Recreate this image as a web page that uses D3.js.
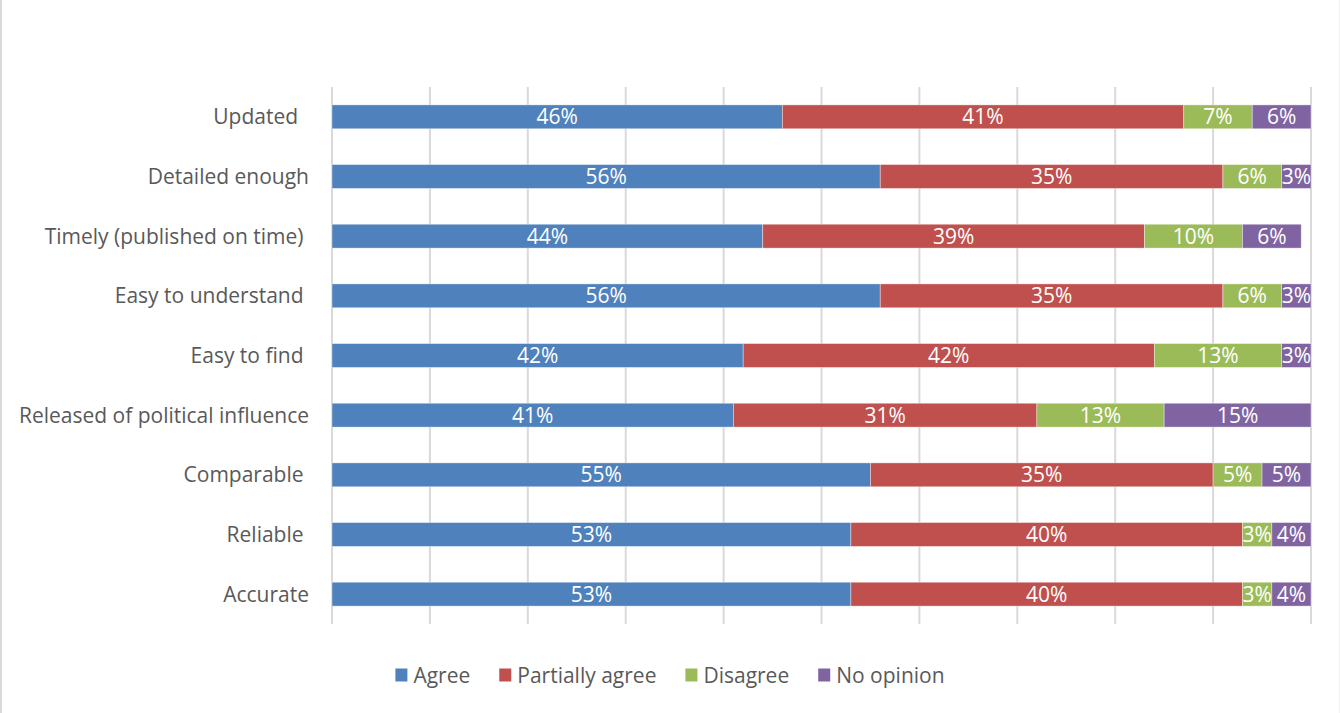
<!DOCTYPE html>
<html>
<head>
<meta charset="utf-8">
<script src="https://cdn.jsdelivr.net/npm/d3@7"></script>
<style>
  body { margin: 0; background: #fff; }
  svg text { font-family: "Open Sans", "Noto Sans", sans-serif; }
</style>
</head>
<body>
<div id="chart"></div>
<script>
// Survey categories (top to bottom) - trailing spaces kept as in the source labels
const categories = [
  "Updated  ", "Detailed enough", "Timely (published on time) ", "Easy to understand ",
  "Easy to find ", "Released of political influence", "Comparable ", "Reliable ", "Accurate"
];
const agree     = [46, 56, 44, 56, 42, 41, 55, 53, 53];
const partially = [41, 35, 39, 35, 42, 31, 35, 40, 40];
const disagree  = [ 7,  6, 10,  6, 13, 13,  5,  3,  3];
const noOpinion = [ 6,  3,  6,  3,  3, 15,  5,  4,  4];
const seriesNames = ["Agree", "Partially agree", "Disagree", "No opinion"];
const seriesColors = ["#4F81BD", "#C0504D", "#9BBB59", "#8064A2"];
const xTicks = [0, 10, 20, 30, 40, 50, 60, 70, 80, 90, 100];

const W = 1340, H = 713;
const margin = { top: 87, right: 29, bottom: 89, left: 332 };
const width = W - margin.left - margin.right;
const height = H - margin.top - margin.bottom;
const fontSize = "21px";

const rows = categories.map((c, i) => ({
  cat: c, Agree: agree[i], "Partially agree": partially[i],
  Disagree: disagree[i], "No opinion": noOpinion[i]
}));

const svg = d3.select("#chart").append("svg")
  .attr("width", W).attr("height", H);

// outer chart frame (left edge)
svg.append("line")
  .attr("x1", 1).attr("x2", 1).attr("y1", 0).attr("y2", H)
  .attr("stroke", "#d9d9d9").attr("stroke-width", 2);
svg.append("line")
  .attr("x1", W - 0.5).attr("x2", W - 0.5).attr("y1", 0).attr("y2", H)
  .attr("stroke", "#f0f0f0").attr("stroke-width", 1);

const g = svg.append("g").attr("transform", `translate(${margin.left},${margin.top})`);

const x = d3.scaleLinear().domain([0, 100]).range([0, width]);
const y = d3.scaleBand().domain(categories).range([0, height]).paddingInner(0.6).paddingOuter(0.3);

// gridlines
g.append("g")
  .selectAll("line")
  .data(xTicks)
  .join("line")
  .attr("x1", d => x(d)).attr("x2", d => x(d))
  .attr("y1", 0).attr("y2", height)
  .attr("stroke", "#d9d9d9").attr("stroke-width", 2);

const color = d3.scaleOrdinal().domain(seriesNames).range(seriesColors);
const stacked = d3.stack().keys(seriesNames)(rows);

const layer = g.selectAll("g.layer")
  .data(stacked)
  .join("g")
  .attr("class", "layer")
  .attr("fill", d => color(d.key));

layer.selectAll("rect")
  .data(d => d)
  .join("rect")
  .attr("x", d => x(d[0]))
  .attr("y", d => y(d.data.cat))
  .attr("width", d => x(d[1]) - x(d[0]))
  .attr("height", y.bandwidth())
  .attr("stroke", "rgba(255,255,255,0.5)")
  .attr("stroke-width", 0.75);

layer.selectAll("text")
  .data(d => d)
  .join("text")
  .attr("x", d => (x(d[0]) + x(d[1])) / 2)
  .attr("y", d => y(d.data.cat) + y.bandwidth() / 2)
  .attr("dy", "0.36em")
  .attr("text-anchor", "middle")
  .attr("fill", "#fff")
  .style("font-size", fontSize)
  .text(d => (d[1] - d[0]) + "%");

// category axis
const yAxis = g.append("g")
  .call(d3.axisLeft(y).tickSize(0).tickPadding(23));
yAxis.select(".domain").remove();
yAxis.selectAll("text")
  .attr("fill", "#595959")
  .style("font-size", fontSize)
  .style("white-space", "pre")
  .attr("dy", "0.36em");

// legend
const legend = svg.append("g").attr("transform", `translate(0, 675)`);
const items = legend.selectAll("g").data(seriesNames).join("g");
items.append("rect")
  .attr("width", 12).attr("height", 13)
  .attr("y", -6.5)
  .attr("fill", d => color(d));
items.append("text")
  .attr("x", 18)
  .attr("dy", "0.36em")
  .attr("fill", "#595959")
  .style("font-size", fontSize)
  .text(d => d);

let offset = 0;
const widths = [];
items.each(function () {
  widths.push(this.querySelector("text").getComputedTextLength() + 18);
});
const gap = 29;
const total = d3.sum(widths) + gap * (widths.length - 1);
let start = W / 2 - total / 2;
items.attr("transform", (d, i) => {
  const t = `translate(${start + offset},0)`;
  offset += widths[i] + gap;
  return t;
});
</script>
</body>
</html>
